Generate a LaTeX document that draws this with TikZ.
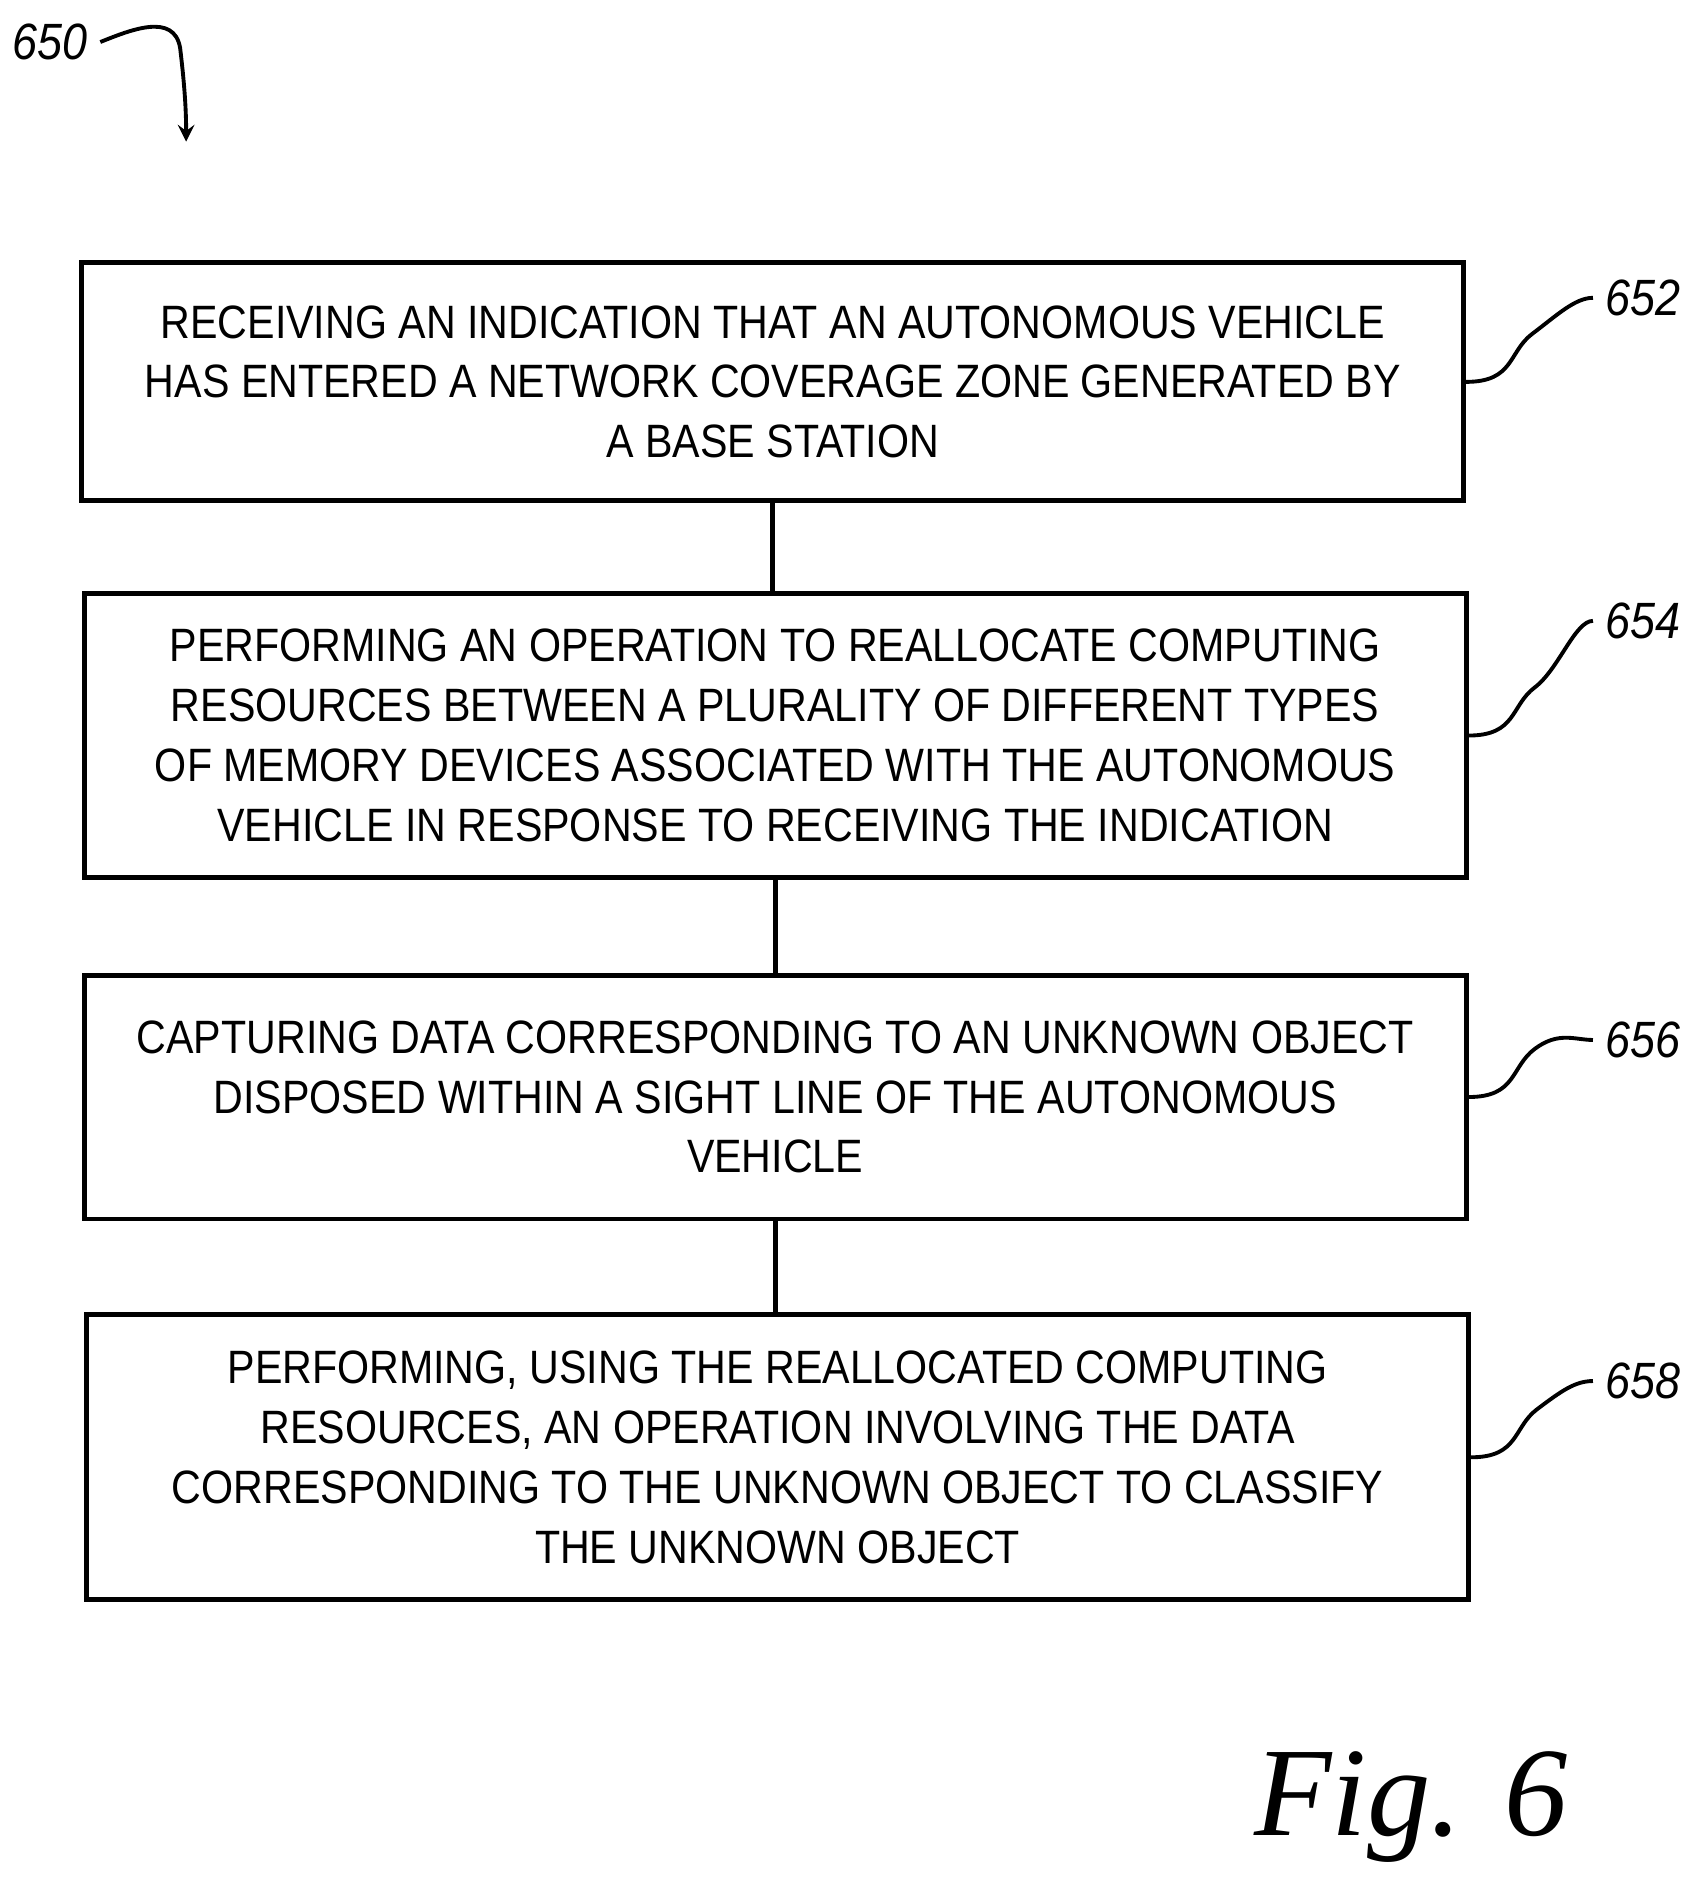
\documentclass[tikz,border=0pt]{standalone}
\usepackage{fontspec}
\setmainfont{Liberation Sans}[FakeStretch=0.88]
\newfontfamily\figfont{Liberation Serif}
\usetikzlibrary{positioning}
\begin{document}
\begin{tikzpicture}[x=0.012cm,y=-0.012cm,
	procstep/.style={draw, line width=1.4pt, inner sep=0pt, align=center, minimum width=13.8cm, font=\fontsize{13.3}{17}\selectfont},
	link/.style={line width=1.4pt},
	ref/.style={font=\fontsize{14.5}{16}\selectfont\itshape},
	lead/.style={line width=1.1pt}]

	\useasboundingbox (0,0) rectangle (1414,1563);

	% process steps
	\node[procstep, minimum height=2.376cm] (s652) at (643.5,318)
		{RECEIVING AN INDICATION THAT AN AUTONOMOUS VEHICLE\\HAS ENTERED A NETWORK COVERAGE ZONE GENERATED BY\\A BASE STATION};
	\node[procstep, minimum height=2.844cm] (s654) at (645.5,612.5)
		{PERFORMING AN OPERATION TO REALLOCATE COMPUTING\\RESOURCES BETWEEN A PLURALITY OF DIFFERENT TYPES\\OF MEMORY DEVICES ASSOCIATED WITH THE AUTONOMOUS\\VEHICLE IN RESPONSE TO RECEIVING THE INDICATION};
	\node[procstep, minimum height=2.436cm] (s656) at (645.5,913.5)
		{CAPTURING DATA CORRESPONDING TO AN UNKNOWN OBJECT\\DISPOSED WITHIN A SIGHT LINE OF THE AUTONOMOUS\\VEHICLE};
	\node[procstep, minimum height=2.844cm] (s658) at (647.5,1213.5)
		{PERFORMING, USING THE REALLOCATED COMPUTING\\RESOURCES, AN OPERATION INVOLVING THE DATA\\CORRESPONDING TO THE UNKNOWN OBJECT TO CLASSIFY\\THE UNKNOWN OBJECT};

	% connectors
	\draw[link] (s652.south) -- (s652.south |- s654.north);
	\draw[link] (s654.south) -- (s654.south |- s656.north);
	\draw[link] (s656.south) -- (s656.south |- s658.north);

	% reference numerals
	\foreach \s/\y in {652/248, 654/517, 656/866, 658/1150} {
		\node[ref] (r\s) at (1368,\y) {\s};
		\draw[lead] (s\s.east) .. controls +(40,0) and +(-20,15) .. +(55,-40)
			.. controls +(20,-15) and +(-15,0) .. (r\s.west);
	}

	% figure numeral
	\node[ref] (r650) at (42,35) {650};
	\coordinate (a650) at (155,118);
	\draw[lead, ->, >=stealth] (r650.east) .. controls +(25,-10) and +(-5,-30) .. (150,40) .. controls +(3,25) and +(0,-30) .. (a650);

	\node[font=\figfont\fontsize{36}{36}\selectfont\itshape] (fig) at (1175,1505) {Fig. 6};
\end{tikzpicture}
\end{document}
